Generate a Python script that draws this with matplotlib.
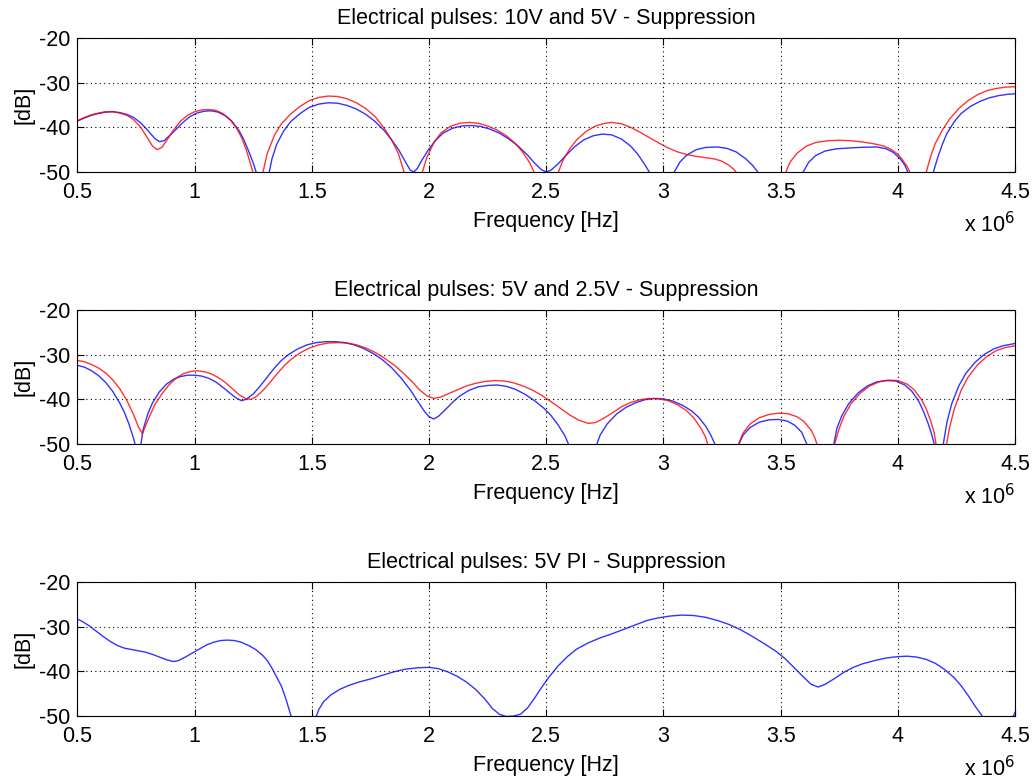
import matplotlib
matplotlib.use("Agg")
import matplotlib.pyplot as plt

plt.rcParams['font.family'] = ['Liberation Sans', 'DejaVu Sans']

# Frequencies in units of 1e6 Hz, suppression in dB
p1_blue_f = [0.50, 0.53, 0.56, 0.59, 0.62, 0.65, 0.68, 0.71, 0.74, 0.77, 0.80, 0.83, 0.85, 0.87, 0.89, 0.92, 0.95, 0.98, 1.01, 1.04, 1.07, 1.10, 1.13, 1.16, 1.19, 1.21, 1.23, 1.25, 1.265, 1.29,
             1.317, 1.33, 1.35, 1.38, 1.41, 1.45, 1.49, 1.53, 1.57, 1.61, 1.65, 1.69, 1.73, 1.77, 1.81, 1.84, 1.87, 1.90, 1.92, 1.935, 1.95, 1.97, 2.00, 2.03, 2.06, 2.10, 2.14, 2.18, 2.22, 2.26,
             2.30, 2.34, 2.38, 2.42, 2.45, 2.48, 2.50, 2.52, 2.55, 2.58, 2.62, 2.66, 2.70, 2.74, 2.78, 2.82, 2.86, 2.89, 2.92, 2.943, 2.99, 3.043, 3.07, 3.10, 3.14, 3.18, 3.23, 3.27, 3.31, 3.35,
             3.38, 3.407, 3.50, 3.593, 3.62, 3.65, 3.69, 3.74, 3.80, 3.86, 3.91, 3.95, 3.98, 4.01, 4.03, 4.045, 4.10, 4.15, 4.17, 4.19, 4.21, 4.24, 4.27, 4.31, 4.35, 4.39, 4.43, 4.47, 4.50]
p1_blue_db = [-38.6, -37.9, -37.3, -36.9, -36.6, -36.5, -36.7, -37.1, -37.8, -39.0, -40.7, -42.5, -43.2, -43.0, -42.0, -40.5, -38.9, -37.6, -36.8, -36.4, -36.3, -36.6, -37.4, -38.7, -40.8, -42.8, -45.3, -48.0, -50.5, -56.0,
              -50.3, -47.0, -43.8, -40.8, -38.7, -36.9, -35.5, -34.8, -34.5, -34.6, -35.1, -35.9, -37.1, -38.7, -40.8, -42.8, -45.0, -47.8, -49.6, -50.0, -49.2, -47.3, -44.8, -42.8, -41.3, -40.2, -39.7, -39.6, -39.8, -40.4,
              -41.3, -42.6, -44.2, -46.2, -48.0, -49.5, -50.0, -49.6, -48.2, -46.5, -44.4, -42.8, -41.9, -41.5, -41.7, -42.6, -44.2, -46.0, -48.3, -50.3, -56.0, -50.3, -47.8, -46.2, -45.0, -44.5, -44.4, -44.7, -45.5, -47.0,
              -48.5, -50.3, -58.0, -50.3, -47.8, -46.3, -45.3, -44.8, -44.6, -44.45, -44.4, -44.8, -45.6, -47.0, -48.5, -50.3, -58.0, -50.3, -46.8, -43.8, -41.3, -38.8, -36.9, -35.3, -34.2, -33.4, -32.9, -32.6, -32.5]

p1_red_f = [0.50, 0.53, 0.56, 0.59, 0.62, 0.65, 0.68, 0.71, 0.74, 0.77, 0.80, 0.82, 0.84, 0.86, 0.88, 0.91, 0.94, 0.97, 1.00, 1.03, 1.06, 1.09, 1.12, 1.15, 1.18, 1.20, 1.22, 1.24, 1.25, 1.27,
            1.29, 1.31, 1.34, 1.37, 1.41, 1.45, 1.49, 1.53, 1.57, 1.61, 1.65, 1.69, 1.73, 1.77, 1.81, 1.84, 1.87, 1.895, 1.93, 1.97, 1.99, 2.02, 2.05, 2.09, 2.13, 2.17, 2.21, 2.25, 2.29, 2.33,
            2.37, 2.40, 2.43, 2.45, 2.50, 2.55, 2.57, 2.60, 2.63, 2.67, 2.71, 2.75, 2.78, 2.82, 2.86, 2.90, 2.94, 2.98, 3.02, 3.06, 3.10, 3.14, 3.18, 3.22, 3.25, 3.28, 3.30, 3.314, 3.42, 3.52,
            3.54, 3.57, 3.61, 3.65, 3.70, 3.75, 3.80, 3.85, 3.90, 3.94, 3.97, 4.00, 4.02, 4.04, 4.054, 4.085, 4.12, 4.14, 4.16, 4.19, 4.22, 4.26, 4.30, 4.34, 4.38, 4.42, 4.46, 4.50]
p1_red_db = [-38.5, -37.8, -37.2, -36.8, -36.5, -36.5, -36.8, -37.3, -38.3, -40.0, -42.5, -44.2, -45.0, -44.5, -43.0, -40.6, -38.6, -37.3, -36.5, -36.1, -36.0, -36.2, -36.9, -38.2, -40.3, -42.3, -45.0, -48.5, -50.3, -56.0,
             -50.3, -45.8, -41.8, -39.2, -37.0, -35.3, -34.0, -33.3, -33.0, -33.1, -33.6, -34.5, -35.8, -37.6, -40.3, -42.8, -46.0, -50.3, -55.0, -50.3, -46.8, -43.5, -41.3, -39.8, -39.1, -38.9, -39.1, -39.7, -40.6, -41.9,
             -43.7, -45.6, -48.0, -50.3, -56.0, -50.3, -47.5, -44.8, -42.8, -40.9, -39.7, -39.1, -38.9, -39.2, -40.0, -41.1, -42.3, -43.5, -44.6, -45.5, -46.1, -46.5, -46.8, -47.1, -47.6, -48.5, -49.4, -50.3, -58.0, -50.3,
             -47.8, -45.8, -44.2, -43.4, -43.0, -42.9, -43.0, -43.3, -43.7, -44.2, -44.9, -46.0, -47.3, -48.8, -50.3, -55.0, -50.3, -46.5, -43.6, -40.6, -38.2, -35.8, -34.0, -32.7, -31.8, -31.3, -31.0, -30.9]

p2_blue_f = [0.50, 0.53, 0.56, 0.59, 0.62, 0.65, 0.68, 0.70, 0.72, 0.74, 0.75, 0.76, 0.77, 0.78, 0.80, 0.82, 0.85, 0.88, 0.91, 0.94, 0.97, 1.00, 1.03, 1.06, 1.09, 1.12, 1.15, 1.18, 1.20, 1.22,
             1.25, 1.28, 1.31, 1.34, 1.37, 1.40, 1.44, 1.48, 1.52, 1.56, 1.60, 1.64, 1.68, 1.72, 1.76, 1.80, 1.84, 1.88, 1.92, 1.95, 1.98, 2.00, 2.02, 2.04, 2.07, 2.10, 2.13, 2.17, 2.21, 2.25,
             2.29, 2.33, 2.37, 2.41, 2.45, 2.49, 2.52, 2.55, 2.58, 2.597, 2.655, 2.714, 2.73, 2.76, 2.80, 2.84, 2.88, 2.92, 2.96, 3.00, 3.04, 3.08, 3.12, 3.15, 3.18, 3.20, 3.222, 3.27, 3.319, 3.34,
             3.37, 3.41, 3.45, 3.49, 3.53, 3.56, 3.59, 3.614, 3.67, 3.726, 3.74, 3.76, 3.79, 3.83, 3.87, 3.91, 3.95, 3.99, 4.03, 4.06, 4.09, 4.11, 4.13, 4.145, 4.157, 4.175, 4.193, 4.21, 4.23, 4.26,
             4.29, 4.33, 4.37, 4.41, 4.45, 4.50]
p2_blue_db = [-32.4, -32.8, -33.6, -34.7, -36.2, -38.2, -40.8, -42.9, -45.6, -48.9, -51.0, -54.0, -50.3, -46.8, -43.3, -40.8, -38.3, -36.6, -35.5, -34.9, -34.6, -34.6, -34.8, -35.3, -36.1, -37.3, -38.6, -39.8, -40.3, -40.0,
              -38.8, -37.0, -35.0, -33.0, -31.3, -30.0, -28.7, -27.8, -27.3, -27.1, -27.1, -27.3, -27.8, -28.6, -29.7, -31.1, -32.9, -35.2, -37.9, -40.3, -42.7, -43.9, -44.4, -43.8, -42.3, -40.7, -39.3, -38.0, -37.2, -36.9,
              -36.8, -37.1, -37.8, -38.9, -40.3, -42.0, -43.6, -45.7, -48.2, -50.3, -57.0, -50.3, -48.0, -45.5, -43.3, -41.8, -40.8, -40.1, -39.8, -39.9, -40.4, -41.3, -42.6, -44.0, -46.0, -47.8, -50.3, -56.0, -50.3, -48.0,
              -46.3, -45.1, -44.6, -44.5, -44.9, -45.8, -47.4, -50.3, -57.0, -50.3, -46.5, -43.8, -41.0, -38.6, -37.0, -36.1, -35.8, -35.9, -36.8, -38.2, -40.5, -42.8, -45.5, -48.0, -50.3, -56.0, -50.3, -45.0, -41.0, -37.0,
              -34.2, -31.7, -29.9, -28.7, -28.0, -27.5]

p2_red_f = [0.50, 0.53, 0.56, 0.59, 0.62, 0.65, 0.68, 0.71, 0.74, 0.76, 0.777, 0.79, 0.81, 0.83, 0.86, 0.89, 0.92, 0.95, 0.98, 1.01, 1.04, 1.07, 1.10, 1.13, 1.16, 1.19, 1.22, 1.24, 1.26, 1.29,
            1.32, 1.35, 1.38, 1.41, 1.45, 1.49, 1.53, 1.57, 1.61, 1.65, 1.69, 1.73, 1.77, 1.81, 1.85, 1.89, 1.93, 1.96, 1.99, 2.02, 2.05, 2.08, 2.12, 2.16, 2.20, 2.24, 2.28, 2.32, 2.36, 2.40,
            2.44, 2.48, 2.52, 2.56, 2.60, 2.64, 2.68, 2.71, 2.74, 2.78, 2.82, 2.86, 2.90, 2.94, 2.98, 3.02, 3.06, 3.10, 3.13, 3.16, 3.18, 3.19, 3.25, 3.319, 3.34, 3.37, 3.41, 3.45, 3.49, 3.53,
            3.57, 3.60, 3.63, 3.645, 3.657, 3.69, 3.729, 3.75, 3.77, 3.80, 3.84, 3.88, 3.92, 3.96, 4.00, 4.04, 4.07, 4.10, 4.12, 4.14, 4.155, 4.164, 4.185, 4.207, 4.22, 4.24, 4.27, 4.30, 4.34, 4.38,
            4.42, 4.46, 4.50]
p2_red_db = [-31.3, -31.6, -32.2, -33.0, -34.1, -35.6, -37.6, -40.2, -43.5, -46.2, -47.7, -46.0, -43.5, -41.2, -38.8, -36.8, -35.3, -34.3, -33.8, -33.6, -33.8, -34.3, -35.1, -36.2, -37.6, -39.0, -39.9, -40.0, -39.5, -38.1,
             -36.3, -34.4, -32.6, -31.1, -29.6, -28.5, -27.8, -27.4, -27.3, -27.4, -27.8, -28.5, -29.5, -30.8, -32.3, -34.1, -36.2, -37.9, -39.2, -39.8, -39.5, -38.8, -37.9, -37.0, -36.4, -36.0, -35.8, -35.9, -36.3, -37.0,
             -37.9, -39.1, -40.5, -42.0, -43.5, -44.7, -45.4, -45.2, -44.4, -43.1, -41.7, -40.7, -40.1, -39.8, -39.9, -40.3, -41.2, -42.6, -44.2, -46.5, -48.5, -50.3, -57.0, -50.3, -47.5, -45.5, -44.1, -43.4, -43.1, -43.2,
             -43.9, -45.0, -46.9, -48.5, -50.3, -54.0, -50.3, -46.5, -43.8, -41.0, -38.6, -37.0, -36.1, -35.7, -35.8, -36.6, -37.9, -40.0, -42.0, -44.8, -47.5, -50.3, -56.0, -50.3, -46.5, -42.3, -38.0, -35.0, -32.3, -30.4,
             -29.1, -28.4, -28.0]

p3_blue_f = [0.50, 0.52, 0.55, 0.58, 0.61, 0.64, 0.67, 0.70, 0.73, 0.76, 0.79, 0.82, 0.85, 0.88, 0.91, 0.93, 0.96, 0.99, 1.02, 1.05, 1.08, 1.11, 1.14, 1.17, 1.20, 1.23, 1.26, 1.29, 1.31, 1.33,
             1.35, 1.37, 1.39, 1.413, 1.465, 1.517, 1.53, 1.55, 1.58, 1.62, 1.66, 1.70, 1.75, 1.80, 1.85, 1.90, 1.95, 2.00, 2.04, 2.08, 2.12, 2.16, 2.20, 2.24, 2.27, 2.30, 2.33, 2.36, 2.39, 2.42,
             2.45, 2.48, 2.51, 2.55, 2.59, 2.63, 2.68, 2.73, 2.78, 2.83, 2.88, 2.93, 2.98, 3.03, 3.08, 3.13, 3.18, 3.23, 3.28, 3.33, 3.38, 3.43, 3.48, 3.52, 3.56, 3.60, 3.63, 3.66, 3.69, 3.73,
             3.77, 3.81, 3.85, 3.90, 3.95, 4.00, 4.04, 4.08, 4.12, 4.16, 4.20, 4.24, 4.27, 4.30, 4.33, 4.364, 4.43, 4.49, 4.50]
p3_blue_db = [-28.3, -28.8, -29.8, -31.0, -32.2, -33.3, -34.2, -34.8, -35.1, -35.4, -35.7, -36.2, -36.8, -37.4, -37.8, -37.6, -36.8, -35.9, -35.0, -34.1, -33.5, -33.1, -33.0, -33.1, -33.5, -34.2, -35.1, -36.4, -37.6, -39.3,
              -41.3, -43.3, -46.3, -50.3, -60.0, -50.3, -48.5, -46.8, -45.3, -44.0, -43.1, -42.4, -41.7, -40.9, -40.1, -39.5, -39.2, -39.1, -39.4, -40.1, -41.1, -42.4, -44.1, -46.3, -48.3, -49.6, -50.1, -50.0, -49.6, -48.2,
              -46.0, -43.6, -41.4, -38.8, -36.7, -35.0, -33.6, -32.5, -31.6, -30.6, -29.6, -28.6, -28.0, -27.6, -27.4, -27.5, -27.9, -28.6, -29.5, -30.7, -32.2, -33.8, -35.5, -37.2, -39.3, -41.4, -42.9, -43.5, -42.9, -41.6,
              -40.2, -39.1, -38.3, -37.6, -37.0, -36.7, -36.6, -36.8, -37.3, -38.2, -39.6, -41.4, -43.2, -45.4, -47.8, -50.3, -57.0, -50.3, -49.2]

titles = ["Electrical pulses: 10V and 5V - Suppression",
          "Electrical pulses: 5V and 2.5V - Suppression",
          "Electrical pulses: 5V PI - Suppression"]
x_ticks = [0.5, 1, 1.5, 2, 2.5, 3, 3.5, 4, 4.5]
x_tick_labels = ["0.5", "1", "1.5", "2", "2.5", "3", "3.5", "4", "4.5"]
y_ticks = [-50, -40, -30, -20]
y_tick_labels = ["-50", "-40", "-30", "-20"]

series = [
    [(p1_blue_f, p1_blue_db, "#0000ff"), (p1_red_f, p1_red_db, "#ff0000")],
    [(p2_blue_f, p2_blue_db, "#0000ff"), (p2_red_f, p2_red_db, "#ff0000")],
    [(p3_blue_f, p3_blue_db, "#0000ff")],
]

fig = plt.figure(figsize=(10.33, 7.8), dpi=100)
left, width = 0.075, 0.9076
bottoms = [0.7795, 0.4308, 0.0820]
height = 0.1718
fs = 15.5

for i in range(3):
    ax = fig.add_axes([left, bottoms[i], width, height])
    for f, db, c in series[i]:
        ax.plot(f, db, color=c, lw=1.0, alpha=0.8)
    ax.set_xlim(0.5, 4.5)
    ax.set_ylim(-50, -20)
    ax.set_xticks(x_ticks)
    ax.set_xticklabels(x_tick_labels)
    ax.set_yticks(y_ticks)
    ax.set_yticklabels(y_tick_labels)
    ax.grid(True, color="black", linestyle=(0, (1, 3)), linewidth=0.8)
    ax.tick_params(direction="in", top=True, right=True, length=5,
                   labelsize=fs, pad=5)
    ax.tick_params(axis="x", pad=7)
    for s in ax.spines.values():
        s.set_linewidth(0.8)
    ax.set_title(titles[i], fontsize=fs, pad=10)
    ax.set_xlabel("Frequency [Hz]", fontsize=fs, labelpad=6)
    ax.set_ylabel("[dB]", fontsize=fs, labelpad=3)
    ax.text(1.0, -0.45, r"x 10$^{6}$", transform=ax.transAxes,
            ha="right", va="baseline", fontsize=fs)

fig.savefig("out.png", dpi=100)
